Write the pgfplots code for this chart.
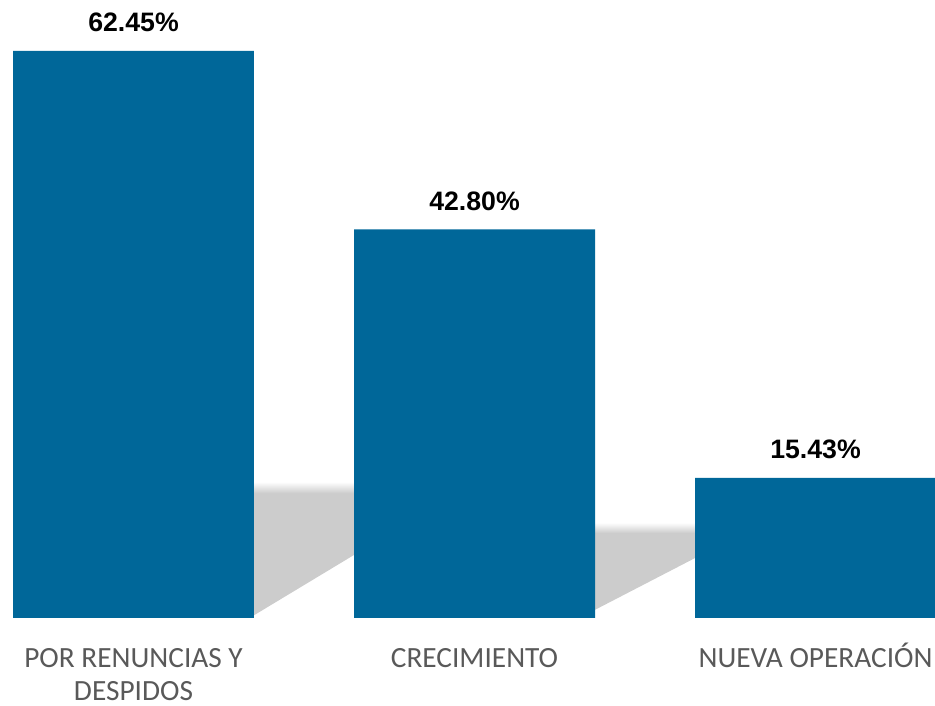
\documentclass[border=0pt]{standalone}
\usepackage{pgfplots}
\pgfplotsset{compat=1.18}
\usepackage{fontspec}
\newfontfamily\carlito{Carlito}
\newfontfamily\arial{Liberation Sans}
\definecolor{barblue}{RGB}{0,103,153}
\definecolor{shadowgray}{RGB}{204,204,204}
\definecolor{labgray}{RGB}{89,89,89}
\newcommand{\st}{\rule{0pt}{18pt}}
\begin{document}
\begin{tikzpicture}
\begin{axis}[
  name=ax,
  scale only axis,
  width=701.25pt, height=463.5pt,
  xmin=-0.3915, xmax=2.3504,
  ymin=0, ymax=68.06,
  hide y axis,
  axis x line=bottom,
  x axis line style={draw=none},
  tick style={draw=none},
  major tick length=0pt,
  xtick={0,1,2},
  xticklabels={{\st POR RENUNCIAS Y\\DESPIDOS},{\st CRECIMIENTO},{\st NUEVA OPERACIÓN}},
  xticklabel style={anchor=north, inner sep=0pt, yshift=-18.75pt, align=center,
     font=\carlito\fontsize{22}{24.75}\selectfont, text=labgray},
  /pgf/number format/assume math mode=true,
  clip=false,
]
% shadows (decorative, soft top edge)
\addplot[fill=shadowgray, draw=none, forget plot] coordinates {
 (0.3534,0.3) (0.3534,13.8) (0.6466,13.8) (0.6466,6.94) (0.3534,0.3)};
\addplot[draw=none, top color=white, bottom color=shadowgray, forget plot] coordinates {
 (0.3534,13.75) (0.3534,15.0) (0.6466,15.0) (0.6466,13.75) (0.3534,13.75)};
\addplot[fill=shadowgray, draw=none, forget plot] coordinates {
 (1.3534,0.9) (1.3534,9.4) (1.6466,9.4) (1.6466,6.6) (1.3534,0.9)};
\addplot[draw=none, top color=white, bottom color=shadowgray, forget plot] coordinates {
 (1.3534,9.35) (1.3534,10.5) (1.6466,10.5) (1.6466,9.35) (1.3534,9.35)};
% bars
\addplot[ybar, bar width=0.7067, fill=barblue, draw=none,
  nodes near coords={\pgfmathprintnumber[fixed,fixed zerofill,precision=2,assume math mode=true]{\pgfplotspointmeta}\%},
  nodes near coords style={anchor=base, yshift=14.25pt, inner sep=0pt,
     font=\arial\bfseries\fontsize{20}{23}\selectfont, text=black},
] coordinates {(0,62.45) (1,42.80) (2,15.43)};
\end{axis}
\pgfresetboundingbox
\path[use as bounding box] (ax.south west) ++(0,-66pt) rectangle (ax.north east);
\end{tikzpicture}
\end{document}
